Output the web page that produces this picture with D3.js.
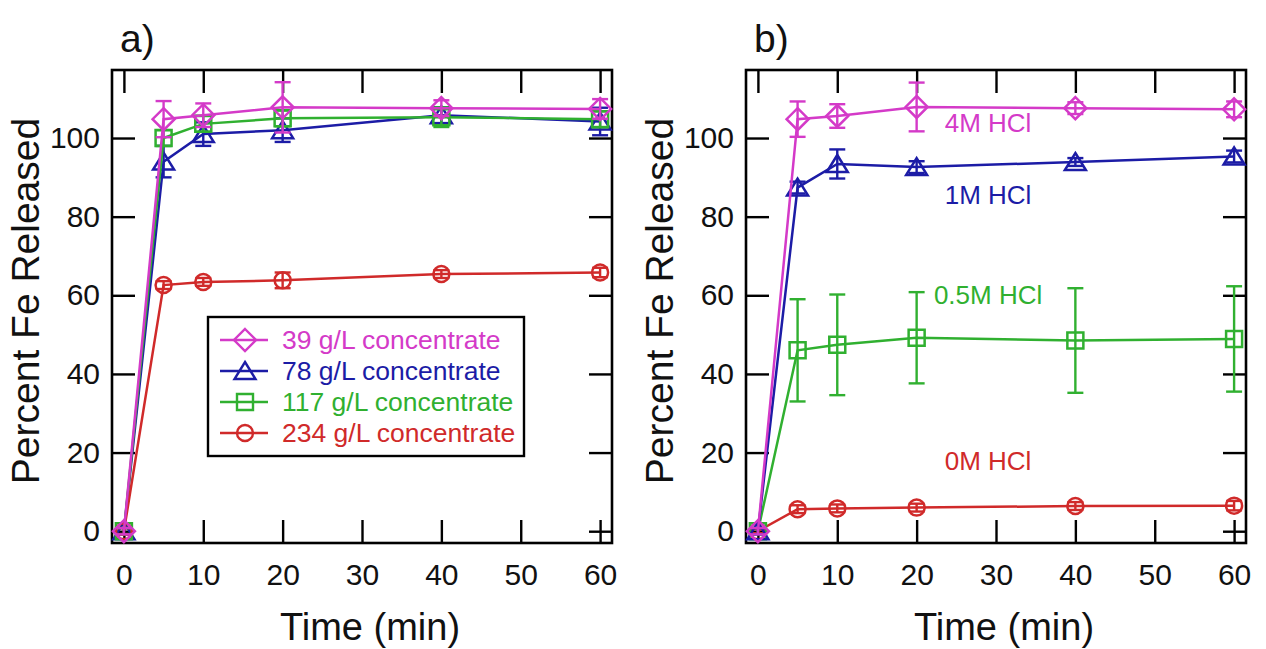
<!DOCTYPE html>
<html>
<head>
<meta charset="utf-8">
<script src="https://cdn.jsdelivr.net/npm/d3@7"></script>
<style>
  body { margin: 0; background: #fff; }
  svg { display: block; font-family: "Liberation Sans", Arial, sans-serif; }
</style>
</head>
<body>
<svg id="chart" width="1266" height="649"></svg>
<script>

// time points (min)
var times = [0, 5, 10, 20, 40, 60];

var xTicks = [0, 10, 20, 30, 40, 50, 60];
var yTicks = [0, 20, 40, 60, 80, 100];

// panel a) - solids concentration
var namesA = ['39 g/L concentrate', '78 g/L concentrate', '117 g/L concentrate', '234 g/L concentrate'];
var a39 = [0, 104.8, 105.8, 107.8, 107.6, 107.4];
var a39Err = [0.8, 4.6, 3, 6.4, 2, 2.5];
var a78 = [0, 94, 101, 102, 105.8, 104.2];
var a78Err = [0.8, 4, 3, 3, 2, 3.5];
var a117 = [0, 100, 103.6, 105, 105.3, 104.8];
var a117Err = [0.8, 2, 2, 2, 2.5, 2];
var a234 = [0, 62.6, 63.4, 63.8, 65.4, 65.8];
var a234Err = [0.8, 1, 1, 2, 1, 1.2];

// panel b) - acid strength
var namesB = ['4M HCl', '1M HCl', '0.5M HCl', '0M HCl'];
var b4M = [0, 104.8, 105.6, 107.9, 107.6, 107.3];
var b4MErr = [0.8, 4.5, 3, 6.2, 1.5, 2];
var b1M = [0, 87.4, 93.4, 92.6, 93.9, 95.3];
var b1MErr = [0.8, 1.5, 3.7, 1.5, 1, 1.5];
var b05M = [0, 46, 47.4, 49.2, 48.5, 48.9];
var b05MErr = [0.8, 13, 12.8, 11.6, 13.3, 13.4];
var b0M = [0, 5.6, 5.8, 6, 6.4, 6.5];
var b0MErr = [0.5, 1, 1, 1, 1, 1.2];

var colors = {
    magenta: '#d43ac8',
    blue: '#1c1ca6',
    green: '#30b030',
    red: '#d02a2a'
};

var svg = d3.select('#chart');

function markerPath(shape) {
    switch (shape) {
        case 'diamond':
            return 'M0,-11L11,0L0,11L-11,0Z';
        case 'triangle':
            return 'M0,-9L10.5,8L-10.5,8Z';
        case 'square':
            return 'M-8,-8h16v16h-16Z';
        case 'circle':
            return 'M8,0A8,8 0 1,1 -8,0A8,8 0 1,1 8,0Z';
    }
}

function buildSeries(values, errors) {
    return times.map(function (t, i) {
        return {t: t, v: values[i], e: errors[i]};
    });
}

function drawPanel(left, label, seriesList) {
    var right = left + 500,
        top = 70,
        bottom = 543;

    var x = d3.scaleLinear().domain([-1.5, 61.5]).range([left, right]);
    var y = d3.scaleLinear().domain([-3, 117.3]).range([bottom, top]);

    var g = svg.append('g');

    // axes, ticks pointing inward on all four sides
    var axB = g.append('g')
        .attr('transform', 'translate(0,' + bottom + ')')
        .call(d3.axisBottom(x).tickValues(xTicks).tickSizeInner(-23).tickSizeOuter(0).tickPadding(21));
    var axL = g.append('g')
        .attr('transform', 'translate(' + left + ',0)')
        .call(d3.axisLeft(y).tickValues(yTicks).tickSizeInner(-23).tickSizeOuter(0).tickPadding(12));
    var axT = g.append('g')
        .attr('transform', 'translate(0,' + top + ')')
        .call(d3.axisTop(x).tickValues(xTicks).tickSizeInner(-23).tickSizeOuter(0).tickFormat(''));
    var axR = g.append('g')
        .attr('transform', 'translate(' + right + ',0)')
        .call(d3.axisRight(y).tickValues(yTicks).tickSizeInner(-23).tickSizeOuter(0).tickFormat(''));

    [axB, axL, axT, axR].forEach(function (ax) {
        ax.select('.domain').remove();
        ax.selectAll('line').attr('stroke', '#000').attr('stroke-width', 2.4);
        ax.selectAll('text')
            .attr('font-size', 30)
            .attr('font-family', '"Liberation Sans", Arial, sans-serif')
            .attr('fill', '#111');
    });

    g.append('rect')
        .attr('x', left)
        .attr('y', top)
        .attr('width', right - left)
        .attr('height', bottom - top)
        .attr('fill', 'none')
        .attr('stroke', '#000')
        .attr('stroke-width', 2.6);

    var line = d3.line()
        .x(function (d) { return x(d.t); })
        .y(function (d) { return y(d.v); });

    seriesList.forEach(function (s) {
        var sg = g.append('g');
        var data = buildSeries(s.values, s.errors);

        sg.append('path')
            .datum(data)
            .attr('d', line)
            .attr('fill', 'none')
            .attr('stroke', s.color)
            .attr('stroke-width', 2.5);

        var eb = sg.selectAll('.err')
            .data(data)
            .enter().append('g')
            .attr('stroke', s.color)
            .attr('stroke-width', 2.4);
        eb.append('line')
            .attr('x1', function (d) { return x(d.t); })
            .attr('x2', function (d) { return x(d.t); })
            .attr('y1', function (d) { return y(d.v - d.e); })
            .attr('y2', function (d) { return y(d.v + d.e); });
        eb.append('line')
            .attr('x1', function (d) { return x(d.t) - 8; })
            .attr('x2', function (d) { return x(d.t) + 8; })
            .attr('y1', function (d) { return y(d.v - d.e); })
            .attr('y2', function (d) { return y(d.v - d.e); });
        eb.append('line')
            .attr('x1', function (d) { return x(d.t) - 8; })
            .attr('x2', function (d) { return x(d.t) + 8; })
            .attr('y1', function (d) { return y(d.v + d.e); })
            .attr('y2', function (d) { return y(d.v + d.e); });

        sg.selectAll('.mk')
            .data(data)
            .enter().append('path')
            .attr('transform', function (d) { return 'translate(' + x(d.t) + ',' + y(d.v) + ')'; })
            .attr('d', markerPath(s.shape))
            .attr('fill', 'none')
            .attr('stroke', s.color)
            .attr('stroke-width', 2.5);
    });

    // axis titles
    g.append('text')
        .attr('x', (left + right) / 2 + 8)
        .attr('y', 640)
        .attr('text-anchor', 'middle')
        .attr('font-size', 38)
        .attr('fill', '#111')
        .text('Time (min)');

    g.append('text')
        .attr('transform', 'translate(' + (left - 73) + ',301) rotate(-90)')
        .attr('text-anchor', 'middle')
        .attr('font-size', 39)
        .attr('fill', '#111')
        .text('Percent Fe Released');

    g.append('text')
        .attr('x', left + 8)
        .attr('y', 52)
        .attr('font-size', 39)
        .attr('fill', '#111')
        .text(label);

    return {x: x, y: y, g: g};
}

var seriesA = [
    {name: namesA[1], values: a78, errors: a78Err, color: colors.blue, shape: 'triangle'},
    {name: namesA[2], values: a117, errors: a117Err, color: colors.green, shape: 'square'},
    {name: namesA[3], values: a234, errors: a234Err, color: colors.red, shape: 'circle'},
    {name: namesA[0], values: a39, errors: a39Err, color: colors.magenta, shape: 'diamond'}
];

var seriesB = [
    {name: namesB[3], values: b0M, errors: b0MErr, color: colors.red, shape: 'circle'},
    {name: namesB[2], values: b05M, errors: b05MErr, color: colors.green, shape: 'square'},
    {name: namesB[1], values: b1M, errors: b1MErr, color: colors.blue, shape: 'triangle'},
    {name: namesB[0], values: b4M, errors: b4MErr, color: colors.magenta, shape: 'diamond'}
];

var panelA = drawPanel(112, 'a)', seriesA);
var panelB = drawPanel(746, 'b)', seriesB);

// legend for panel a
var legendItems = [
    {name: namesA[0], color: colors.magenta, shape: 'diamond'},
    {name: namesA[1], color: colors.blue, shape: 'triangle'},
    {name: namesA[2], color: colors.green, shape: 'square'},
    {name: namesA[3], color: colors.red, shape: 'circle'}
];

var legend = panelA.g.append('g').attr('transform', 'translate(208,317)');
legend.append('rect')
    .attr('width', 316)
    .attr('height', 139)
    .attr('fill', '#fff')
    .attr('stroke', '#000')
    .attr('stroke-width', 2.4);

var li = legend.selectAll('.li')
    .data(legendItems)
    .enter().append('g')
    .attr('transform', function (d, i) { return 'translate(0,' + (23 + i * 31) + ')'; });
li.append('line')
    .attr('x1', 12).attr('x2', 60)
    .attr('stroke', function (d) { return d.color; })
    .attr('stroke-width', 2.4);
li.append('path')
    .attr('transform', 'translate(37,0)')
    .attr('d', function (d) { return markerPath(d.shape); })
    .attr('fill', 'none')
    .attr('stroke', function (d) { return d.color; })
    .attr('stroke-width', 2.4);
li.append('text')
    .attr('x', 74)
    .attr('y', 9)
    .attr('font-size', 26.5)
    .attr('fill', function (d) { return d.color; })
    .text(function (d) { return d.name; });

// series labels for panel b
var labelPos = [
    {name: namesB[0], t: 29, v: 101.5, color: colors.magenta},
    {name: namesB[1], t: 29, v: 83.2, color: colors.blue},
    {name: namesB[2], t: 29, v: 57.7, color: colors.green},
    {name: namesB[3], t: 29, v: 15.5, color: colors.red}
];
panelB.g.selectAll('.lab')
    .data(labelPos)
    .enter().append('text')
    .attr('x', function (d) { return panelB.x(d.t); })
    .attr('y', function (d) { return panelB.y(d.v); })
    .attr('text-anchor', 'middle')
    .attr('font-size', 26)
    .attr('fill', function (d) { return d.color; })
    .text(function (d) { return d.name; });

</script>
</body>
</html>
